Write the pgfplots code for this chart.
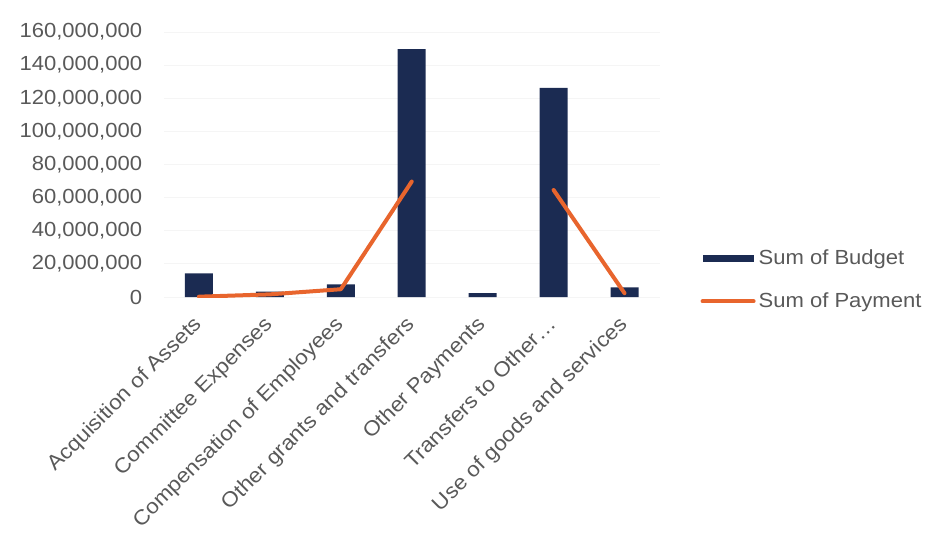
\documentclass[border=0pt]{standalone}
\usepackage{fontspec}
\setmainfont{Liberation Sans}[FakeStretch=1.08]
\usepackage{pgfplots}
\pgfplotsset{compat=1.18}

\definecolor{budget}{HTML}{1B2B52}
\definecolor{payment}{HTML}{E8652D}
\definecolor{ticktext}{HTML}{595959}

\begin{document}
\begin{tikzpicture}
\begin{axis}[
    name=ax,
    scale only axis,
    width=248.25pt, height=132.5pt,
    xmin=-0.5, xmax=6.5,
    ymin=0, ymax=160000000,
    ytick={0,20000000,...,160000000},
    xtick={0,...,6},
    xticklabels={Acquisition of Assets, Committee Expenses, Compensation of Employees, Other grants and transfers, Other Payments, Transfers to Other\ldots, Use of goods and services},
    axis line style={draw=none},
    major tick style={draw=none},
    ymajorgrids,
    grid style={black!4, line width=0.4pt},
    scaled y ticks=false,
    /pgf/number format/.cd, fixed, 1000 sep={,}, assume math mode=true,
    /pgfplots/.cd,
    ticklabel style={font=\fontsize{10.2}{12}\selectfont, text=ticktext},
    yticklabel style={anchor=east, inner sep=0pt, xshift=-10.5pt},
    xticklabel style={rotate=45, anchor=north east, inner sep=0pt, xshift=-8.5pt, yshift=-3.5pt,
        font=\fontsize{10.4}{12}\selectfont},
    unbounded coords=jump,
    legend style={draw=none, fill=none, at={(rel axis cs:1.081,0.064)}, anchor=west,
        font=\fontsize{10.2}{12}\selectfont, text=ticktext,
        row sep=8.5pt, inner sep=0pt,
        nodes={inner xsep=1.5pt},
        /tikz/every even column/.append style={column sep=0pt}},
    legend cell align=left,
]
% Budget per economic classification
\addplot[ybar, bar width=14pt, fill=budget, draw=none,
    legend image code/.code={\fill[budget] (0pt,-1.6pt) rectangle (25.5pt,1.6pt);}]
    coordinates {
    (0,14300000) (1,3200000) (2,7600000) (3,149600000)
    (4,2400000) (5,126300000) (6,5800000)
};
\addlegendentry{Sum of Budget}
% Payments made (none recorded for Other Payments)
\addplot[payment, line width=2pt, line join=round, line cap=round, mark=none,
    legend image code/.code={\draw[payment, line width=2pt] (0pt,0pt) -- (25.5pt,0pt);}]
    coordinates {
    (0,200000) (1,1600000) (2,4700000) (3,69700000)
    (4,nan) (5,64600000) (6,2300000)
};
\addlegendentry{Sum of Payment}
\end{axis}
\pgfresetboundingbox
\useasboundingbox ([xshift=-81.75pt,yshift=-120.5pt]ax.south west)
    rectangle ([xshift=390.75pt,yshift=148.5pt]ax.south west);
\end{tikzpicture}
\end{document}
